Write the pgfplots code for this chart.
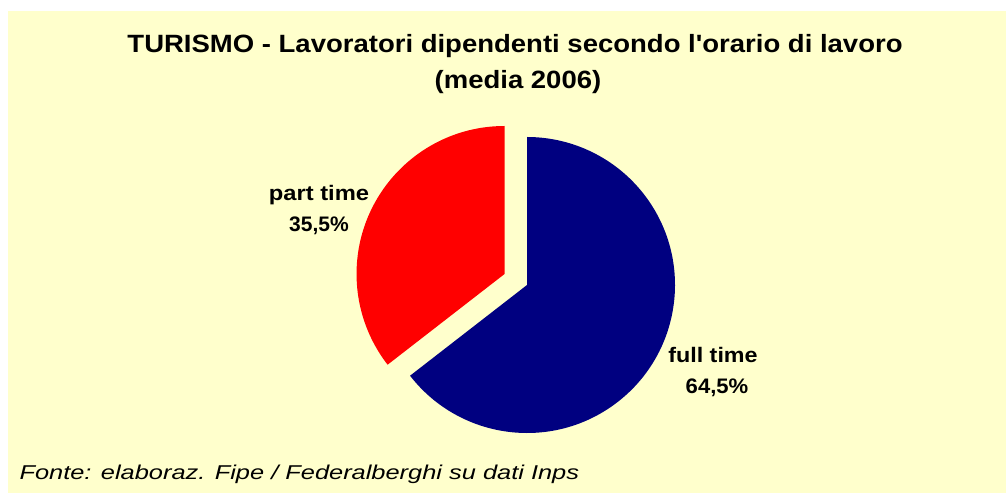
\documentclass[border=0pt]{standalone}
\usepackage{pgfplots}
\pgfplotsset{compat=1.18}
\usepackage{graphicx}
\usepackage{fontspec}
\setmainfont{Liberation Sans}[Ligatures=TeXOff]
\definecolor{bg}{HTML}{FFFFCC}
\definecolor{navyc}{HTML}{000080}
\definecolor{redc}{HTML}{FF0000}
\begin{document}
\begin{tikzpicture}
\def\valpart{35.5}
\def\valfull{64.5}
\pgfmathsetmacro{\aend}{90+\valpart*3.6}
\pgfmathsetmacro{\amid}{90+\valpart*1.8}
\begin{axis}[width=1006bp,height=493bp,scale only axis,xmin=0,xmax=1006,ymin=0,ymax=493,hide axis,clip=false]
\fill[white] (axis cs:0,0) rectangle (axis cs:1006,493);
\fill[bg] (axis cs:8,0) rectangle (axis cs:1006,482);
\fill[navyc] (axis cs:527,208) -- +(\aend:148bp) arc[start angle=\aend,end angle=450,radius=148bp] -- cycle;
\fill[redc] (axis cs:527,208) ++(\amid:25bp) -- +(90:148bp) arc[start angle=90,end angle=\aend,radius=148bp] -- cycle;
\node[anchor=base,font=\bfseries\fontsize{25bp}{30bp}\selectfont] at (axis cs:515,440) {\scalebox{1.1}[1]{TURISMO - Lavoratori dipendenti secondo l'orario di lavoro}};
\node[anchor=base,font=\bfseries\fontsize{25bp}{30bp}\selectfont] at (axis cs:518,404) {\scalebox{1.1}[1]{(media 2006)}};
\node[anchor=base,font=\bfseries\fontsize{21bp}{25bp}\selectfont] at (axis cs:319,292) {\scalebox{1.13}[1]{part time}};
\node[anchor=base,font=\bfseries\fontsize{21bp}{25bp}\selectfont] at (axis cs:319,261) {35,5\%};
\node[anchor=base,font=\bfseries\fontsize{21bp}{25bp}\selectfont] at (axis cs:713,131) {\scalebox{1.11}[1]{full time}};
\node[anchor=base,font=\bfseries\fontsize{21bp}{25bp}\selectfont] at (axis cs:717,100) {\scalebox{1.05}[1]{64,5\%}};
\node[anchor=base west,font=\itshape\fontsize{20bp}{24bp}\selectfont] at (axis cs:16,14) {\scalebox{1.27}[1]{Fonte: elaboraz. Fipe / Federalberghi su dati Inps}};
\end{axis}
\end{tikzpicture}
\end{document}
